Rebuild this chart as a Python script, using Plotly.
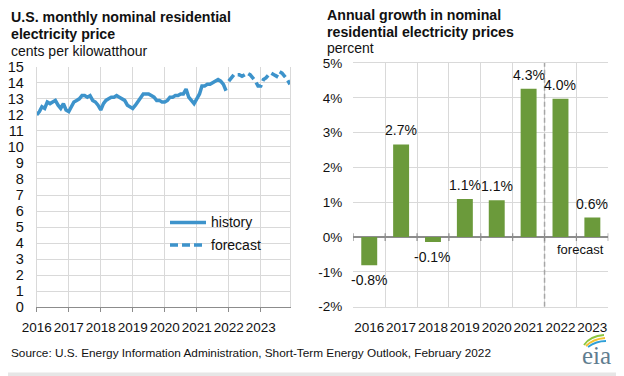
import pandas as pd
import plotly.graph_objects as go

# ---------------- data ----------------
history_values = [
    12.0, 12.2, 12.5, 12.4, 12.8, 12.7, 12.8, 12.9, 12.6, 12.4, 12.7, 12.3,   # 2016
    12.2, 12.5, 12.8, 12.9, 13.0, 13.2, 13.2, 13.1, 13.2, 12.9, 12.8, 12.6,   # 2017
    12.3, 12.7, 12.9, 13.0, 13.1, 13.1, 13.2, 13.1, 13.0, 12.9, 12.6, 12.5,   # 2018
    12.4, 12.6, 12.8, 13.0, 13.3, 13.3, 13.3, 13.2, 13.1, 12.9, 12.9, 12.8,   # 2019
    12.8, 12.9, 13.1, 13.1, 13.2, 13.2, 13.3, 13.3, 13.6, 13.1, 12.9, 12.7,   # 2020
    13.0, 13.3, 13.8, 13.8, 13.9, 13.9, 14.0, 14.1, 14.2, 14.1, 13.9, 13.5,   # 2021
]
forecast_values = [
    14.1, 14.3, 14.5, 14.5, 14.5, 14.4, 14.5, 14.6, 14.5, 14.3, 14.1, 13.8,   # 2022
    13.8, 14.2, 14.3, 14.5, 14.6, 14.5, 14.4, 14.7, 14.6, 14.4, 14.2, 13.9,   # 2023
]
history_dates = pd.date_range("2016-01-01", periods=len(history_values), freq="MS")
forecast_dates = pd.date_range("2022-01-01", periods=len(forecast_values), freq="MS")

years = ["2016", "2017", "2018", "2019", "2020", "2021", "2022", "2023"]
growth_values = [-0.81, 2.66, -0.14, 1.09, 1.06, 4.26, 3.97, 0.56]

left_yticks = list(range(0, 16))
right_yticks = [-2, -1, 0, 1, 2, 3, 4, 5]
right_yticktext = ["-2%", "-1%", "0%", "1%", "2%", "3%", "4%", "5%"]

# ---------------- style ----------------
# the page body has an 8px margin; the figure fills the rest of the 624x376 window
OFF = 8
W, H = 624 - OFF, 376 - OFF
FONT = "Liberation Sans, Arial, sans-serif"
LINE_COLOR = "#3d93cb"
BAR_COLOR = "#6b9a3b"
GRID = "#d9d9d9"
AXIS = "#8c8c8c"
TXT = "#111111"


def px(x):
    """window pixel x -> paper fraction"""
    return (x - OFF) / W


def py(y):
    """window pixel y -> paper fraction"""
    return 1 - (y - OFF) / H


fig = go.Figure()

fig.add_trace(go.Scatter(x=history_dates, y=history_values, mode="lines",
                         line=dict(color=LINE_COLOR, width=3.5),
                         showlegend=False, xaxis="x", yaxis="y"))
fig.add_trace(go.Scatter(x=forecast_dates, y=forecast_values, mode="lines",
                         line=dict(color=LINE_COLOR, width=3.5, dash="8px,4px"),
                         showlegend=False, xaxis="x", yaxis="y"))

idx = list(range(len(years)))
fig.add_trace(go.Bar(x=idx, y=growth_values, marker=dict(color=BAR_COLOR, line=dict(width=0)),
                     width=0.5, showlegend=False, xaxis="x2", yaxis="y2"))

annotations = []
shapes = []

# bar labels
for i, v in zip(idx, growth_values):
    annotations.append(dict(
        x=i, y=v, xref="x2", yref="y2", text=f"{v:.1f}%", showarrow=False,
        font=dict(family=FONT, size=14, color=TXT),
        yanchor="bottom" if v >= 0 else "top", yshift=4 if v >= 0 else -5))

# forecast label
annotations.append(dict(x=5.5, y=0, xref="x2", yref="y2", text="forecast", showarrow=False,
                        xanchor="left", yanchor="top", xshift=10, yshift=-3,
                        font=dict(family=FONT, size=13, color=TXT)))


def txt(x, y, s, size=14, bold=False, family=FONT, color=TXT, anchor="left"):
    annotations.append(dict(x=px(x), y=py(y), xref="paper", yref="paper",
                            text=f"<b>{s}</b>" if bold else s, showarrow=False,
                            xanchor=anchor, yanchor="middle",
                            font=dict(family=family, size=size, color=color)))


txt(9, 17, "U.S. monthly nominal residential", 14.2, True)
txt(9, 34, "electricity price", 14.2, True)
txt(9, 51, "cents per kilowatthour", 14)
txt(325, 15, "Annual growth in nominal", 14.2, True)
txt(325, 32, "residential electricity prices", 14.2, True)
txt(325, 48.5, "percent", 14)
txt(9, 353, "Source: U.S. Energy Information Administration, Short-Term Energy Outlook, February 2022",
    11.8)

# manual legend
txt(209, 222.5, "history", 14)
txt(209, 245, "forecast", 14)
shapes.append(dict(type="line", xref="paper", yref="paper", x0=px(170), x1=px(206),
                   y0=py(222.5), y1=py(222.5), line=dict(color=LINE_COLOR, width=3.5)))
shapes.append(dict(type="line", xref="paper", yref="paper", x0=px(170), x1=px(206),
                   y0=py(245), y1=py(245), line=dict(color=LINE_COLOR, width=3.5, dash="8px,4px")))

# dashed forecast divider on right chart
shapes.append(dict(type="line", xref="x2", yref="y2", x0=5.5, x1=5.5, y0=-2, y1=5,
                   line=dict(color="#a6a6a6", width=1.5, dash="5px,3px")))
# tick marks crossing zero line
for k in range(len(years) + 1):
    shapes.append(dict(type="line", xref="x2", yref="y2", x0=k - 0.5, x1=k - 0.5,
                       y0=-0.11, y1=0.11, line=dict(color=AXIS, width=1.2)))

# eia logo
txt(596.5, 355, "eia", 25, family="Liberation Serif, serif", color="#5f7d8f", anchor="center")
arcs = [((584, 345), (590, 336), (604, 335), "#8dc63f"),
        ((586, 346), (593, 339), (605, 338), "#f2c230"),
        ((588, 347), (596, 341), (606, 341), "#2f9fd8")]
for (x0, y0), (cx, cy), (x1, y1), col in arcs:
    shapes.append(dict(type="path", xref="paper", yref="paper",
                       path=f"M {px(x0)},{py(y0)} Q {px(cx)},{py(cy)} {px(x1)},{py(y1)}",
                       line=dict(color=col, width=1.8)))

# bottom strip
shapes.append(dict(type="rect", xref="paper", yref="paper", x0=0, x1=1, y0=0, y1=py(372.5),
                   fillcolor="#e6e6e6", line=dict(width=0), layer="below"))

year_ticks = [f"{y}-01-01" for y in years]

fig.update_layout(
    template="none",
    width=W, height=H, margin=dict(l=0, r=0, t=0, b=0, pad=0), autosize=False,
    paper_bgcolor="white", plot_bgcolor="white",
    font=dict(family=FONT, size=13, color=TXT),
    annotations=annotations, shapes=shapes,
    xaxis=dict(domain=[px(36.7), px(290)], type="date", automargin=False,
               range=["2016-01-01", "2023-12-01"],
               tickvals=year_ticks, ticktext=years, tickangle=0,
               showgrid=True, gridcolor=GRID, gridwidth=1,
               showline=True, linecolor=AXIS, linewidth=1.2,
               ticks="outside", ticklen=4, tickcolor=AXIS, tickwidth=1,
               tickfont=dict(size=13.5, color=TXT), ticklabelstandoff=3,
               zeroline=False, fixedrange=True),
    yaxis=dict(domain=[py(307.3), py(66.7)], range=[0, 15], automargin=False,
               tickvals=left_yticks, ticktext=[str(v) for v in left_yticks],
               showgrid=True, gridcolor=GRID, gridwidth=1,
               showline=True, mirror=True, linecolor=GRID, linewidth=1,
               ticks="", tickfont=dict(size=14.5, color=TXT), ticklabelstandoff=9,
               zeroline=False, fixedrange=True),
    xaxis2=dict(domain=[px(353.3), px(608.3)], anchor="y2", range=[-0.5, 7.5], automargin=False,
                tickvals=idx, ticktext=years, tickangle=0, showgrid=False,
                minor=dict(tickvals=[k - 0.5 for k in range(len(years) + 1)],
                           showgrid=True, gridcolor=GRID, gridwidth=1, ticks=""),
                showline=True, mirror=True, linecolor=GRID, linewidth=1,
                ticks="", tickfont=dict(size=13.5, color=TXT), ticklabelstandoff=8,
                zeroline=False, fixedrange=True),
    yaxis2=dict(domain=[py(306.7), py(63)], anchor="x2", range=[-2, 5], automargin=False,
                tickvals=right_yticks, ticktext=right_yticktext,
                showgrid=True, gridcolor=GRID, gridwidth=1,
                zeroline=True, zerolinecolor=AXIS, zerolinewidth=1.5,
                ticks="", tickfont=dict(size=13.5, color=TXT), ticklabelstandoff=10,
                fixedrange=True),
)

fig.write_html("out.html")
